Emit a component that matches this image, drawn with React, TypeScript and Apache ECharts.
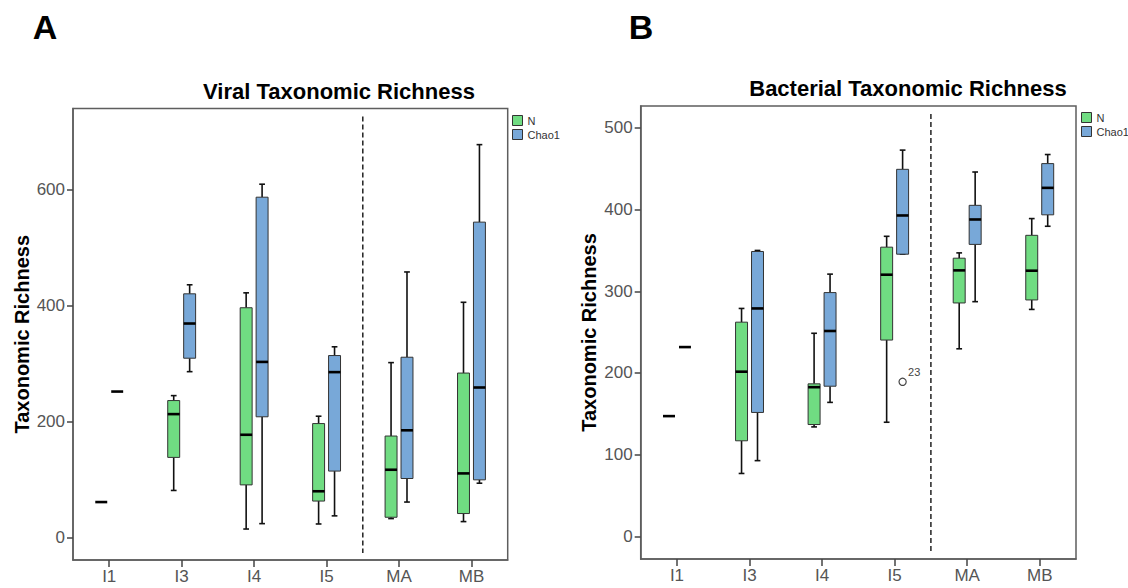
import React, { useEffect, useRef } from "react";
import * as echarts from "echarts";

const FONT = '"Liberation Sans", Arial, Helvetica, sans-serif';

const categories = ["I1", "I3", "I4", "I5", "MA", "MB"];
const separatorAfter = "I5";
const seriesNames = ["N", "Chao1"];

// each row: [lower whisker, Q1, median, Q3, upper whisker]
const viralN = [
  [61, 61, 61, 61, 61],
  [81, 138, 212.6, 236, 244.5],
  [14.5, 90.6, 177, 396, 421.7],
  [23.2, 62.7, 79.6, 196.3, 209],
  [32.5, 34.8, 116.7, 174.8, 301.4],
  [27.3, 41.2, 110.4, 283.4, 405.4],
];
const viralChao1 = [
  [251.5, 251.5, 251.5, 251.5, 251.5],
  [285.8, 309, 368.8, 420, 435.6],
  [23.8, 208, 302.6, 586.6, 609],
  [37.2, 114.4, 285, 313.6, 328.7],
  [61, 101.6, 184.7, 310.7, 457.7],
  [93.5, 99.3, 258.5, 543.6, 677.2],
];
const bacterialN = [
  [147.2, 147.2, 147.2, 147.2, 147.2],
  [77, 117, 201.6, 262.2, 279],
  [134, 136.9, 182.6, 186.7, 248.6],
  [139.7, 240.3, 320.3, 354, 367.3],
  [229.6, 285.7, 325.6, 340.5, 347],
  [277.8, 289.4, 325.2, 368.5, 389],
];
const bacterialChao1 = [
  [231.7, 231.7, 231.7, 231.7, 231.7],
  [92.7, 151.7, 279, 348.7, 350],
  [164, 183.8, 251.4, 298.4, 321],
  [345.4, 345.4, 392.8, 449.3, 472.8],
  [287.3, 357.4, 387.9, 405.2, 446],
  [379.6, 393.6, 426.6, 456.3, 467.4],
];
const bacterialChao1Outliers = [{ category: "I5", value: 189.2, label: "23" }];

const viralTicks = [0, 200, 400, 600];
const bacterialTicks = [0, 100, 200, 300, 400, 500];
const viralRange = [-38.9, 739.5];
const bacterialRange = [-27.7, 526.8];

const GREEN = "#70dc82";
const BLUE = "#78a8d8";
const FRAME = "#5e5e5e";

const OFFSET = 0.11;
const BOXW = 0.165;

const renderBox = (offset: number) => (params: any, api: any) => {
  const idx = api.value(0);
  const lo = api.value(1);
  const q1 = api.value(2);
  const med = api.value(3);
  const q3 = api.value(4);
  const hi = api.value(5);
  const band = api.size([1, 0])[0];
  const cx = api.coord([idx, med])[0] + offset * band;
  const w = band * BOXW;
  const yLo = api.coord([idx, lo])[1];
  const yQ1 = api.coord([idx, q1])[1];
  const yMed = api.coord([idx, med])[1];
  const yQ3 = api.coord([idx, q3])[1];
  const yHi = api.coord([idx, hi])[1];
  const fill = api.visual("color");
  const whisk = { stroke: "#111", lineWidth: 1.6 };
  const cap = w * 0.24;
  const children: any[] = [];
  if (hi !== lo) {
    children.push({ type: "line", shape: { x1: cx, y1: yHi, x2: cx, y2: yQ3 }, style: whisk });
    children.push({ type: "line", shape: { x1: cx, y1: yQ1, x2: cx, y2: yLo }, style: whisk });
    children.push({ type: "line", shape: { x1: cx - cap, y1: yHi, x2: cx + cap, y2: yHi }, style: whisk });
    children.push({ type: "line", shape: { x1: cx - cap, y1: yLo, x2: cx + cap, y2: yLo }, style: whisk });
    children.push({
      type: "rect",
      shape: { x: cx - w / 2, y: yQ3, width: w, height: yQ1 - yQ3 },
      style: { fill, stroke: "#333", lineWidth: 1 },
    });
  }
  children.push({
    type: "line",
    shape: { x1: cx - w / 2, y1: yMed, x2: cx + w / 2, y2: yMed },
    style: { stroke: "#000", lineWidth: 2.6 },
  });
  return { type: "group", children };
};

const boxSeries = (name: string, rows: number[][], gi: number, offset: number, color: string) => ({
  type: "custom",
  name,
  xAxisIndex: gi,
  yAxisIndex: gi,
  itemStyle: { color, borderColor: "#333", borderWidth: 1 },
  encode: { x: 0, y: [1, 2, 3, 4, 5] },
  data: rows.map((r, i) => [i, ...r]),
  renderItem: renderBox(offset),
  silent: true,
});

const separatorSeries = (gi: number) => ({
  type: "custom",
  name: "sep" + gi,
  xAxisIndex: gi,
  yAxisIndex: gi,
  silent: true,
  encode: { x: 0 },
  data: [[categories.indexOf(separatorAfter)]],
  renderItem: (params: any, api: any) => {
    const i = api.value(0);
    const band = api.size([1, 0])[0];
    const x = api.coord([i, 0])[0] + band / 2;
    const cs = params.coordSys;
    return {
      type: "line",
      shape: { x1: x, y1: cs.y + 8, x2: x, y2: cs.y + cs.height - 7 },
      style: { stroke: "#222", lineWidth: 1.5, lineDash: [5, 3] },
    };
  },
});

const outlierSeries = (gi: number, list: { category: string; value: number; label: string }[]) => ({
  type: "custom",
  name: "outliers" + gi,
  xAxisIndex: gi,
  yAxisIndex: gi,
  silent: true,
  encode: { x: 0, y: 1 },
  data: list.map((o) => [categories.indexOf(o.category), o.value]),
  renderItem: (params: any, api: any) => {
    const band = api.size([1, 0])[0];
    const p = api.coord([api.value(0), api.value(1)]);
    const cx = p[0] + OFFSET * band;
    const cy = p[1];
    return {
      type: "group",
      children: [
        { type: "circle", shape: { cx, cy, r: 3.6 }, style: { fill: "#fff", stroke: "#444", lineWidth: 1.2 } },
        {
          type: "text",
          x: cx + 5.5,
          y: cy - 4.5,
          style: {
            text: list[params.dataIndex].label,
            fill: "#444",
            font: `11px ${FONT}`,
            textAlign: "left",
            textVerticalAlign: "bottom",
            align: "left",
            verticalAlign: "bottom",
          },
        },
      ],
    };
  },
});

const xAxisCfg = (gi: number) => ({
  gridIndex: gi,
  type: "category",
  data: categories,
  boundaryGap: true,
  axisLine: { show: true, onZero: false, lineStyle: { color: FRAME, width: 1.5 } },
  axisTick: { show: true, alignWithLabel: true, length: 7, lineStyle: { color: "#444", width: 1.5 } },
  axisLabel: { fontSize: 17, color: "#555", margin: 8, fontFamily: FONT },
  splitLine: { show: false },
});

const yAxisCfg = (gi: number, range: number[], ticks: number[], nameGap: number) => ({
  gridIndex: gi,
  type: "value",
  min: range[0],
  max: range[1],
  axisLine: { show: true, onZero: false, lineStyle: { color: FRAME, width: 1.5 } },
  axisTick: { show: true, length: 6, customValues: ticks, lineStyle: { color: "#444", width: 1.5 } },
  axisLabel: { fontSize: 17, color: "#555", margin: 8, fontFamily: FONT, customValues: ticks },
  splitLine: { show: false },
  name: "Taxonomic Richness",
  nameLocation: "middle",
  nameGap,
  nameRotate: 90,
  nameTextStyle: { fontSize: 20, fontWeight: "bold", color: "#000", fontFamily: FONT },
});

const legendCfg = (left: number, top: number) => ({
  data: seriesNames,
  orient: "vertical",
  left,
  top,
  icon: "rect",
  itemWidth: 10,
  itemHeight: 10,
  itemGap: 3,
  selectedMode: false,
  itemStyle: { borderColor: "#333", borderWidth: 1 },
  textStyle: { fontSize: 11, color: "#333", fontFamily: FONT, lineHeight: 11 },
});

const textEl = (text: string, x: number, y: number, size: number) => ({
  type: "text",
  x,
  y,
  style: {
    text,
    fill: "#000",
    font: `bold ${size}px ${FONT}`,
    textAlign: "center",
    textVerticalAlign: "middle",
    align: "center",
    verticalAlign: "middle",
  },
});

export default function App() {
  const ref = useRef<HTMLDivElement>(null);
  useEffect(() => {
    if (!ref.current) return;
    const chart = echarts.init(ref.current, null, { renderer: "svg" });
    chart.setOption({
      animation: false,
      backgroundColor: "#fff",
      textStyle: { fontFamily: FONT },
      grid: [
        { left: 73, top: 108.5, width: 434.7, height: 451.5, show: true, borderColor: FRAME, borderWidth: 1.5, backgroundColor: "transparent" },
        { left: 640.7, top: 106, width: 435.3, height: 453, show: true, borderColor: FRAME, borderWidth: 1.5, backgroundColor: "transparent" },
      ],
      xAxis: [xAxisCfg(0), xAxisCfg(1)],
      yAxis: [yAxisCfg(0, viralRange, viralTicks, 41), yAxisCfg(1, bacterialRange, bacterialTicks, 42)],
      legend: [legendCfg(507, 110), legendCfg(1076, 107)],
      graphic: [
        textEl("A", 45, 27, 34),
        textEl("B", 641, 27, 34),
        textEl("Viral Taxonomic Richness", 339, 91.5, 22),
        textEl("Bacterial Taxonomic Richness", 908, 88, 22),
      ],
      series: [
        separatorSeries(0),
        separatorSeries(1),
        boxSeries("N", viralN, 0, -OFFSET, GREEN),
        boxSeries("Chao1", viralChao1, 0, OFFSET, BLUE),
        boxSeries("N", bacterialN, 1, -OFFSET, GREEN),
        boxSeries("Chao1", bacterialChao1, 1, OFFSET, BLUE),
        outlierSeries(1, bacterialChao1Outliers),
      ],
    });
    return () => chart.dispose();
  }, []);
  return (
    <div
      ref={ref}
      style={{ position: "fixed", left: 0, top: 0, width: 1128, height: 588, background: "#fff" }}
    />
  );
}
